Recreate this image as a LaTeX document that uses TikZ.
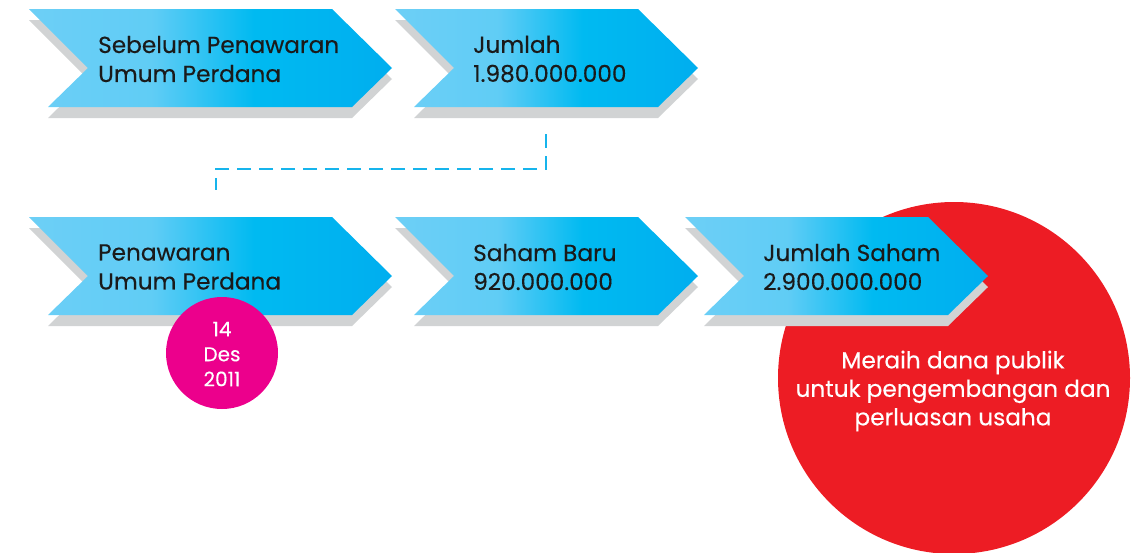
\documentclass[tikz,border=0pt]{standalone}
\usepackage{fontspec}
\setmainfont{Poppins}[FakeBold=0.3]
\usepackage{tikz}
\usetikzlibrary{arrows.meta,calc,positioning}
\definecolor{ink}{HTML}{1A1A1A}
\definecolor{skylite}{HTML}{6DCFF6}
\definecolor{skydeep}{HTML}{00BAF1}
\definecolor{skyedge}{HTML}{00AEEF}
\definecolor{dropgray}{HTML}{D1D3D4}
\definecolor{linkblue}{HTML}{16B4EC}
\definecolor{pinkdot}{HTML}{EC008C}
\definecolor{redball}{HTML}{ED1C24}
\pgfdeclarehorizontalshading{chevfill}{100bp}{color(0bp)=(skylite); color(25bp)=(skylite); color(42bp)=(skylite!88!skydeep); color(56bp)=(skydeep); color(75bp)=(skyedge); color(100bp)=(skyedge)}
\tikzset{
  chevtext/.style={anchor=west,align=left,inner sep=0pt,text=ink,font=\fontsize{23.2}{29}\selectfont},
  dottext/.style={align=center,inner sep=0pt,text=white}
}

\begin{document}
\begin{tikzpicture}[x=1pt,y=-1pt,>=Stealth]
\useasboundingbox (0,0) rectangle (1140,552);
% the goal, behind the last arrow
\fill[redball] (954,378) circle (176);
% shadows first, then the arrows
\foreach \x/\y/\w in {29/9/303,395/9/243,29/217/303,395/217/243,685/217/243}
  \fill[dropgray] (\x,\y+11) -- ++(\w,0) -- ++(60,59) -- ++(-40,39) -- ++(-\w-1,0) -- ++(40,-39) -- cycle;
\foreach \x/\y/\w in {29/9/303,395/9/243,29/217/303,395/217/243,685/217/243}
  \shade[shading=chevfill] (\x,\y) -- ++(\w,0) -- ++(60,59) -- ++(-40,39) -- ++(-\w-1,0) -- ++(40,-39) -- cycle;
\coordinate (jml-foot) at (546,134);
\coordinate (ipo-head) at (216,190);
\draw[linkblue,line width=2.4pt,dash pattern=on 14pt off 8pt] (jml-foot) -- ++(0,35) -| (ipo-head);
\node[chevtext] (pre) at (98,59) {Sebelum Penawaran\\Umum Perdana};
\node[chevtext] (prejml) at (473,59) {Jumlah\\1.980.000.000};
\node[chevtext] (ipo) at (98,267) {Penawaran\\Umum Perdana};
\node[chevtext] (baru) at (473,267) {Saham Baru\\920.000.000};
\node[chevtext] (total) at (763,267) {Jumlah Saham\\2.900.000.000};
\fill[pinkdot] (222,353) circle (56);
\node[dottext,font=\fontsize{20}{25}\selectfont] (date) at (222,354) {14\\Des\\2011};
\node[dottext,font=\fontsize{23.2}{28.5}\selectfont] (goal) at (953,391) {Meraih dana publik\\untuk pengembangan dan\\perluasan usaha};
\end{tikzpicture}
\end{document}
